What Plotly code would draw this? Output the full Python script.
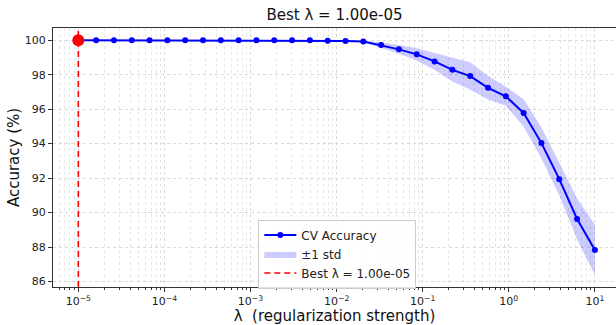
import plotly.graph_objects as go

lambdas = [1.000e-5, 1.610e-5, 2.593e-5, 4.175e-5, 6.723e-5, 1.083e-4, 1.743e-4,
           2.807e-4, 4.520e-4, 7.279e-4, 1.172e-3, 1.887e-3, 3.039e-3, 4.894e-3,
           7.880e-3, 1.269e-2, 2.043e-2, 3.290e-2, 5.298e-2, 8.532e-2, 0.1374,
           0.2212, 0.3562, 0.5736, 0.9237, 1.487, 2.395, 3.857, 6.210, 10.0]
acc_mean = [100.0, 100.0, 100.0, 100.0, 100.0, 100.0, 100.0, 100.0, 100.0, 100.0,
            100.0, 100.0, 100.0, 100.0, 99.97, 99.96, 99.93, 99.72, 99.47, 99.18,
            98.77, 98.28, 97.92, 97.24, 96.75, 95.78, 94.03, 91.94, 89.63, 87.83]
acc_std = [0.0, 0.0, 0.0, 0.0, 0.0, 0.0, 0.0, 0.0, 0.0, 0.0,
           0.0, 0.0, 0.0, 0.0, 0.01, 0.02, 0.04, 0.15, 0.26, 0.36,
           0.50, 0.68, 0.80, 0.68, 0.55, 0.80, 0.90, 0.95, 1.20, 1.45]
best_lambda = 1.0e-5
best_acc = 100.0
y_ticks = [86, 88, 90, 92, 94, 96, 98, 100]
x_tick_vals = [1e-5, 1e-4, 1e-3, 1e-2, 1e-1, 1e0, 1e1]
x_tick_text = ["10<sup>\u22125</sup>", "10<sup>\u22124</sup>", "10<sup>\u22123</sup>",
               "10<sup>\u22122</sup>", "10<sup>\u22121</sup>", "10<sup>0</sup>", "10<sup>1</sup>"]
decades = [-6, -5, -4, -3, -2, -1, 0, 1]
minor_digits = [2, 3, 4, 5, 6, 7, 8, 9]
y_range = [85.68, 100.71]
x_range = [-5.294, 1.245]

FONT = "DejaVu Sans"
upper = [m + s for m, s in zip(acc_mean, acc_std)]
lower = [m - s for m, s in zip(acc_mean, acc_std)]
minor_vals = [d * 10.0 ** k for k in decades for d in minor_digits]

fig = go.Figure()
fig.add_trace(go.Scatter(
    x=lambdas + lambdas[::-1], y=upper + lower[::-1], fill="toself",
    mode="lines", line=dict(width=0, color="rgba(0,0,255,0)"),
    fillcolor="rgba(0,0,255,0.2)", name="\u00b11 std", hoverinfo="skip",
    legendrank=2))
fig.add_trace(go.Scatter(
    x=lambdas, y=acc_mean, mode="lines+markers", name="CV Accuracy",
    line=dict(color="#0000ff", width=2), marker=dict(color="#0000ff", size=6),
    legendrank=1))
fig.add_trace(go.Scatter(
    x=[best_lambda, best_lambda], y=y_range, mode="lines",
    name="Best \u03bb = 1.00e-05", line=dict(color="#ff0000", width=1.6, dash="6px,4px"),
    legendrank=3))
fig.add_trace(go.Scatter(
    x=[best_lambda], y=[best_acc], mode="markers", showlegend=False,
    marker=dict(color="#ff0000", size=12)))

fig.update_layout(
    width=616, height=325,
    margin=dict(l=53, r=0, t=28, b=38),
    paper_bgcolor="white", plot_bgcolor="white",
    font=dict(family=FONT, color="#222", size=11),
    title=dict(text="Best \u03bb = 1.00e-05", x=0.5, xref="paper", xanchor="center",
               y=1 - 15 / 325, yanchor="middle",
               font=dict(family=FONT, size=15, color="#111")),
    legend=dict(x=0.505, xanchor="center", y=-0.006, yanchor="bottom",
                bgcolor="rgba(255,255,255,0.85)", bordercolor="#cccccc", borderwidth=1,
                font=dict(family=FONT, size=12, color="#222"),
                traceorder="normal", itemwidth=32, tracegroupgap=0),
    showlegend=True,
)
fig.update_xaxes(
    type="log", range=x_range, tickvals=x_tick_vals, ticktext=x_tick_text,
    ticks="outside", ticklen=4, tickcolor="#333", tickfont=dict(family=FONT, size=11),
    showline=True, linecolor="#333", linewidth=1, mirror=True,
    showgrid=True, gridcolor="#d9d9d9", griddash="dot", gridwidth=1,
    minor=dict(tickmode="array", tickvals=minor_vals, ticks="outside", ticklen=2,
               tickcolor="#333", showgrid=True,
               gridcolor="#e6e6e6", griddash="dot", gridwidth=1),
    zeroline=False,
    title=dict(text="\u03bb\u00a0 (regularization strength)",
               font=dict(family=FONT, size=15, color="#111"), standoff=6),
)
fig.update_yaxes(
    range=y_range, tickvals=y_ticks, ticks="outside", ticklen=4, tickcolor="#333",
    tickfont=dict(family=FONT, size=11),
    showline=True, linecolor="#333", linewidth=1, mirror=True,
    showgrid=True, gridcolor="#d9d9d9", griddash="dot", gridwidth=1,
    zeroline=False,
    title=dict(text="Accuracy (%)", font=dict(family=FONT, size=15, color="#111"), standoff=1),
)

fig.write_html("out.html")
